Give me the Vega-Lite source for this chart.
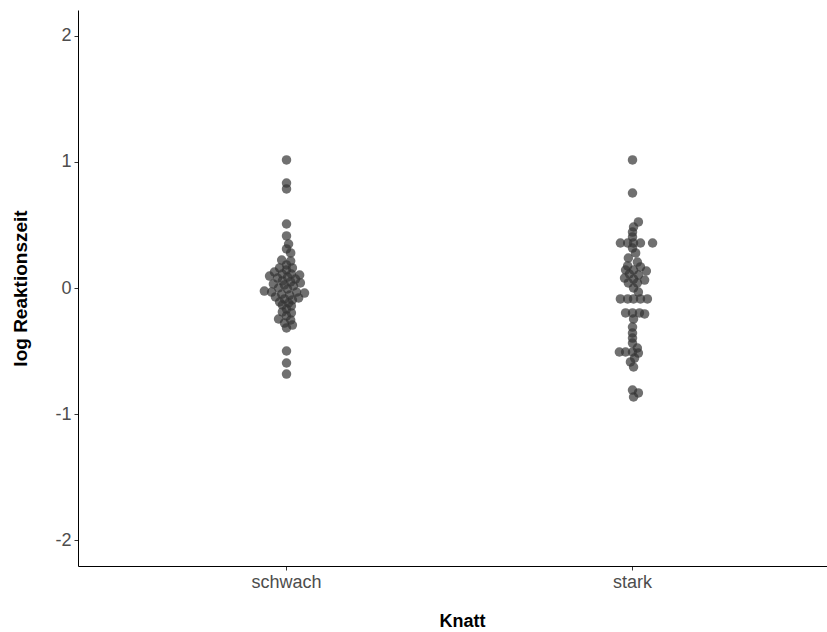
{
  "$schema": "https://vega.github.io/schema/vega-lite/v6.json",
  "autosize": {"type": "none"},
  "width": 749,
  "height": 556,
  "padding": {"left": 78, "top": 10, "right": 0, "bottom": 66},
  "background": "white",
  "config": {
    "view": {"stroke": null},
    "font": "Liberation Sans"
  },
  "datasets": {
    "rt": [
      {"Knatt": "schwach", "logRT": 1.016, "dodge": 0},
      {"Knatt": "schwach", "logRT": 0.833, "dodge": 0},
      {"Knatt": "schwach", "logRT": 0.786, "dodge": 0},
      {"Knatt": "schwach", "logRT": 0.508, "dodge": 0},
      {"Knatt": "schwach", "logRT": 0.413, "dodge": 0},
      {"Knatt": "schwach", "logRT": 0.349, "dodge": 0.006},
      {"Knatt": "schwach", "logRT": 0.31, "dodge": 0},
      {"Knatt": "schwach", "logRT": 0.278, "dodge": 0.012},
      {"Knatt": "schwach", "logRT": 0.222, "dodge": -0.014},
      {"Knatt": "schwach", "logRT": 0.214, "dodge": 0.012},
      {"Knatt": "schwach", "logRT": 0.183, "dodge": 0},
      {"Knatt": "schwach", "logRT": 0.159, "dodge": -0.02},
      {"Knatt": "schwach", "logRT": 0.159, "dodge": 0.017},
      {"Knatt": "schwach", "logRT": 0.143, "dodge": 0},
      {"Knatt": "schwach", "logRT": 0.127, "dodge": -0.035},
      {"Knatt": "schwach", "logRT": 0.111, "dodge": -0.012},
      {"Knatt": "schwach", "logRT": 0.111, "dodge": 0.014},
      {"Knatt": "schwach", "logRT": 0.103, "dodge": 0.038},
      {"Knatt": "schwach", "logRT": 0.095, "dodge": -0.049},
      {"Knatt": "schwach", "logRT": 0.087, "dodge": 0.003},
      {"Knatt": "schwach", "logRT": 0.079, "dodge": -0.026},
      {"Knatt": "schwach", "logRT": 0.071, "dodge": 0.026},
      {"Knatt": "schwach", "logRT": 0.056, "dodge": -0.012},
      {"Knatt": "schwach", "logRT": 0.048, "dodge": 0.012},
      {"Knatt": "schwach", "logRT": 0.04, "dodge": 0.04},
      {"Knatt": "schwach", "logRT": 0.032, "dodge": -0.038},
      {"Knatt": "schwach", "logRT": 0.024, "dodge": -0.006},
      {"Knatt": "schwach", "logRT": 0.016, "dodge": 0.02},
      {"Knatt": "schwach", "logRT": 0.0, "dodge": -0.023},
      {"Knatt": "schwach", "logRT": -0.008, "dodge": 0.003},
      {"Knatt": "schwach", "logRT": -0.024, "dodge": -0.064},
      {"Knatt": "schwach", "logRT": -0.032, "dodge": -0.043},
      {"Knatt": "schwach", "logRT": -0.032, "dodge": 0.029},
      {"Knatt": "schwach", "logRT": -0.04, "dodge": 0.052},
      {"Knatt": "schwach", "logRT": -0.048, "dodge": -0.014},
      {"Knatt": "schwach", "logRT": -0.056, "dodge": 0.009},
      {"Knatt": "schwach", "logRT": -0.071, "dodge": -0.032},
      {"Knatt": "schwach", "logRT": -0.079, "dodge": 0.035},
      {"Knatt": "schwach", "logRT": -0.087, "dodge": -0.006},
      {"Knatt": "schwach", "logRT": -0.095, "dodge": 0.017},
      {"Knatt": "schwach", "logRT": -0.111, "dodge": -0.02},
      {"Knatt": "schwach", "logRT": -0.119, "dodge": 0.006},
      {"Knatt": "schwach", "logRT": -0.135, "dodge": -0.012},
      {"Knatt": "schwach", "logRT": -0.143, "dodge": 0.014},
      {"Knatt": "schwach", "logRT": -0.167, "dodge": 0},
      {"Knatt": "schwach", "logRT": -0.19, "dodge": -0.012},
      {"Knatt": "schwach", "logRT": -0.198, "dodge": 0.014},
      {"Knatt": "schwach", "logRT": -0.222, "dodge": 0},
      {"Knatt": "schwach", "logRT": -0.246, "dodge": -0.023},
      {"Knatt": "schwach", "logRT": -0.254, "dodge": 0.012},
      {"Knatt": "schwach", "logRT": -0.278, "dodge": -0.006},
      {"Knatt": "schwach", "logRT": -0.294, "dodge": 0.017},
      {"Knatt": "schwach", "logRT": -0.317, "dodge": 0},
      {"Knatt": "schwach", "logRT": -0.5, "dodge": 0},
      {"Knatt": "schwach", "logRT": -0.595, "dodge": 0},
      {"Knatt": "schwach", "logRT": -0.683, "dodge": 0},
      {"Knatt": "stark", "logRT": 1.016, "dodge": 0},
      {"Knatt": "stark", "logRT": 0.754, "dodge": 0},
      {"Knatt": "stark", "logRT": 0.524, "dodge": 0.017},
      {"Knatt": "stark", "logRT": 0.484, "dodge": 0.003},
      {"Knatt": "stark", "logRT": 0.444, "dodge": 0},
      {"Knatt": "stark", "logRT": 0.405, "dodge": 0},
      {"Knatt": "stark", "logRT": 0.357, "dodge": -0.035},
      {"Knatt": "stark", "logRT": 0.357, "dodge": -0.014},
      {"Knatt": "stark", "logRT": 0.357, "dodge": 0.003},
      {"Knatt": "stark", "logRT": 0.357, "dodge": 0.023},
      {"Knatt": "stark", "logRT": 0.357, "dodge": 0.058},
      {"Knatt": "stark", "logRT": 0.317, "dodge": 0},
      {"Knatt": "stark", "logRT": 0.278, "dodge": 0.009},
      {"Knatt": "stark", "logRT": 0.238, "dodge": -0.012},
      {"Knatt": "stark", "logRT": 0.206, "dodge": 0.014},
      {"Knatt": "stark", "logRT": 0.175, "dodge": -0.014},
      {"Knatt": "stark", "logRT": 0.167, "dodge": 0.023},
      {"Knatt": "stark", "logRT": 0.143, "dodge": -0.02},
      {"Knatt": "stark", "logRT": 0.143, "dodge": 0.003},
      {"Knatt": "stark", "logRT": 0.135, "dodge": 0.04},
      {"Knatt": "stark", "logRT": 0.111, "dodge": -0.009},
      {"Knatt": "stark", "logRT": 0.103, "dodge": 0.017},
      {"Knatt": "stark", "logRT": 0.079, "dodge": -0.023},
      {"Knatt": "stark", "logRT": 0.071, "dodge": 0.003},
      {"Knatt": "stark", "logRT": 0.063, "dodge": 0.035},
      {"Knatt": "stark", "logRT": 0.04, "dodge": -0.012},
      {"Knatt": "stark", "logRT": 0.04, "dodge": 0.014},
      {"Knatt": "stark", "logRT": 0.0, "dodge": 0.003},
      {"Knatt": "stark", "logRT": -0.032, "dodge": 0.017},
      {"Knatt": "stark", "logRT": -0.087, "dodge": -0.035},
      {"Knatt": "stark", "logRT": -0.087, "dodge": -0.014},
      {"Knatt": "stark", "logRT": -0.087, "dodge": 0.003},
      {"Knatt": "stark", "logRT": -0.087, "dodge": 0.023},
      {"Knatt": "stark", "logRT": -0.087, "dodge": 0.043},
      {"Knatt": "stark", "logRT": -0.198, "dodge": -0.02},
      {"Knatt": "stark", "logRT": -0.198, "dodge": 0},
      {"Knatt": "stark", "logRT": -0.198, "dodge": 0.02},
      {"Knatt": "stark", "logRT": -0.206, "dodge": 0.035},
      {"Knatt": "stark", "logRT": -0.246, "dodge": 0.003},
      {"Knatt": "stark", "logRT": -0.31, "dodge": 0},
      {"Knatt": "stark", "logRT": -0.357, "dodge": 0},
      {"Knatt": "stark", "logRT": -0.397, "dodge": 0},
      {"Knatt": "stark", "logRT": -0.437, "dodge": 0},
      {"Knatt": "stark", "logRT": -0.476, "dodge": 0.014},
      {"Knatt": "stark", "logRT": -0.508, "dodge": -0.038},
      {"Knatt": "stark", "logRT": -0.508, "dodge": -0.02},
      {"Knatt": "stark", "logRT": -0.508, "dodge": 0},
      {"Knatt": "stark", "logRT": -0.516, "dodge": 0.017},
      {"Knatt": "stark", "logRT": -0.556, "dodge": 0.006},
      {"Knatt": "stark", "logRT": -0.587, "dodge": -0.006},
      {"Knatt": "stark", "logRT": -0.627, "dodge": 0.003},
      {"Knatt": "stark", "logRT": -0.81, "dodge": 0},
      {"Knatt": "stark", "logRT": -0.833, "dodge": 0.017},
      {"Knatt": "stark", "logRT": -0.865, "dodge": 0.003}
    ]
  },
  "data": {"name": "rt"},
  "mark": {"type": "circle", "size": 90, "color": "#333333", "opacity": 0.7},
  "encoding": {
    "x": {
      "field": "Knatt",
      "type": "nominal",
      "scale": {"type": "band", "paddingInner": 0, "paddingOuter": 0.0824, "align": 0.623},
      "axis": {
        "title": "Knatt",
        "labelAngle": 0,
        "labelFontSize": 18,
        "labelColor": "#4d4d4d",
        "labelPadding": 3,
        "tickSize": 4,
        "tickColor": "#333333",
        "domainColor": "#000000",
        "domainWidth": 1,
        "grid": false,
        "titleFontSize": 18,
        "titleFontWeight": "bold",
        "titleColor": "#000000",
        "titlePadding": 21,
        "titleX": 384
      }
    },
    "xOffset": {
      "field": "dodge",
      "type": "quantitative",
      "scale": {"domain": [-0.5, 0.5]}
    },
    "y": {
      "field": "logRT",
      "type": "quantitative",
      "scale": {"domain": [-2.206, 2.206], "nice": false, "zero": false},
      "axis": {
        "title": "log Reaktionszeit",
        "values": [-2, -1, 0, 1, 2],
        "labelExpr": "datum.value < 0 ? '-' + abs(datum.value) : '' + datum.value",
        "labelFontSize": 18,
        "labelColor": "#4d4d4d",
        "labelPadding": 3,
        "tickSize": 4,
        "tickColor": "#333333",
        "domainColor": "#000000",
        "domainWidth": 1,
        "grid": false,
        "titleFontSize": 19,
        "titleFontWeight": "bold",
        "titleColor": "#000000",
        "titlePadding": 24
      }
    }
  }
}
